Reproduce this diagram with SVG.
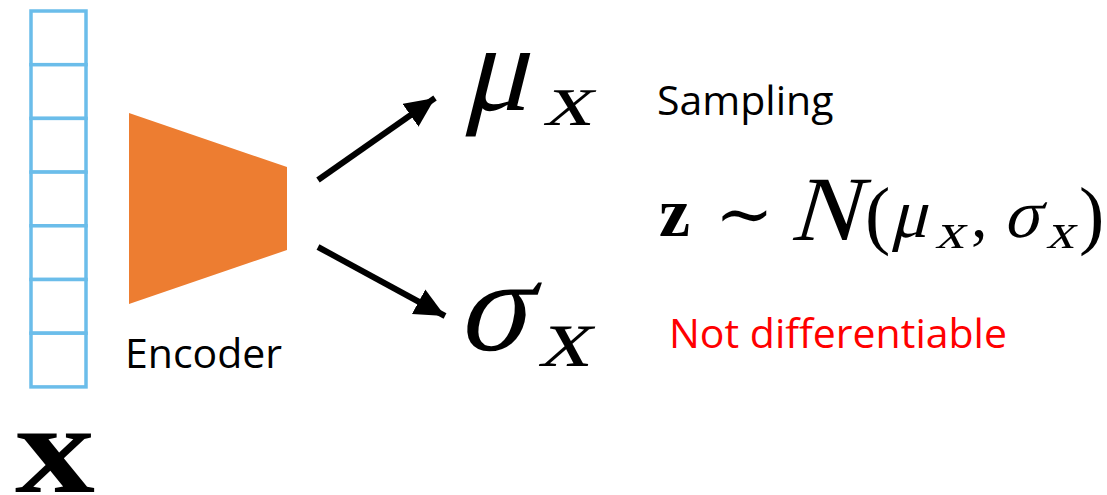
<svg xmlns="http://www.w3.org/2000/svg" width="1107" height="495" viewBox="0 0 1107 495">
<style>
.cell{fill:#ffffff;stroke:#6BBDEA;stroke-width:3.5}
.lbl{font-family:"Open Sans","Liberation Sans",sans-serif;font-size:41px;fill:#000}
.math{font-family:"Liberation Serif","DejaVu Serif",serif;fill:#000}
.rm{font-family:"Liberation Serif","DejaVu Serif",serif;fill:#000}
.sym{font-family:"DejaVu Serif","Liberation Serif",serif;fill:#000}
.conn{stroke:#000;stroke-width:6;fill:none}
</style>
<defs>
<marker id="ah" markerUnits="userSpaceOnUse" markerWidth="34" markerHeight="30" refX="30" refY="14" orient="auto">
<path d="M0,0 L30,14 L0,28 Z" fill="#000"/>
</marker>
</defs>
<rect width="1107" height="495" fill="#fff"/>
<g id="input">
<rect class="cell" x="31" y="11" width="55" height="53.7"/>
<rect class="cell" x="31" y="64.7" width="55" height="53.7"/>
<rect class="cell" x="31" y="118.4" width="55" height="53.7"/>
<rect class="cell" x="31" y="172.1" width="55" height="53.7"/>
<rect class="cell" x="31" y="225.8" width="55" height="53.7"/>
<rect class="cell" x="31" y="279.5" width="55" height="53.7"/>
<rect class="cell" x="31" y="333.2" width="55" height="53.7"/>
<text x="15" y="492" class="rm" font-weight="bold" font-size="128" textLength="80" lengthAdjust="spacingAndGlyphs">x</text>
</g>
<g id="encoder">
<polygon points="129,113 287,167 287,250 129,304" fill="#ED7D31"/>
<text x="125" y="368" class="lbl">Encoder</text>
</g>
<g id="connectors">
<line class="conn" x1="318" y1="180" x2="435" y2="98" marker-end="url(#ah)"/>
<line class="conn" x1="318" y1="247" x2="445" y2="316" marker-end="url(#ah)"/>
</g>
<g id="mu">
<text transform="translate(462,110) skewX(-14)" class="math" font-size="124">μ</text>
<text transform="translate(543,125) skewX(-14)" class="math" font-size="76" textLength="48" lengthAdjust="spacingAndGlyphs">x</text>
</g>
<g id="sigma">
<text transform="translate(456,350) skewX(-14)" class="math" font-size="132">σ</text>
<text transform="translate(538,366) skewX(-14)" class="math" font-size="86" textLength="51" lengthAdjust="spacingAndGlyphs">x</text>
</g>
<g id="sampling">
<text x="657" y="115" class="lbl" font-size="41.5">Sampling</text>
<text x="659" y="236" class="rm" font-weight="bold" font-size="70">z</text>
<text x="715" y="238" class="sym" font-size="70">∼</text>
<text transform="translate(790,240) skewX(-16)" class="math" font-size="92">N</text>
<text x="865" y="240" class="rm" font-size="76">(</text>
<text transform="translate(890,237) skewX(-14)" class="math" font-size="70">μ</text>
<text transform="translate(935,248) skewX(-14)" class="math" font-size="50" textLength="29" lengthAdjust="spacingAndGlyphs">x</text>
<text x="971" y="237" class="rm" font-size="66">,</text>
<text transform="translate(1003,237) skewX(-14)" class="math" font-size="68">σ</text>
<text transform="translate(1046,248) skewX(-14)" class="math" font-size="50" textLength="28" lengthAdjust="spacingAndGlyphs">x</text>
<text x="1079" y="240" class="rm" font-size="76">)</text>
</g>
<g id="note">
<text x="669" y="348" class="lbl" font-size="42" style="fill:#FF0000">Not differentiable</text>
</g>
</svg>
